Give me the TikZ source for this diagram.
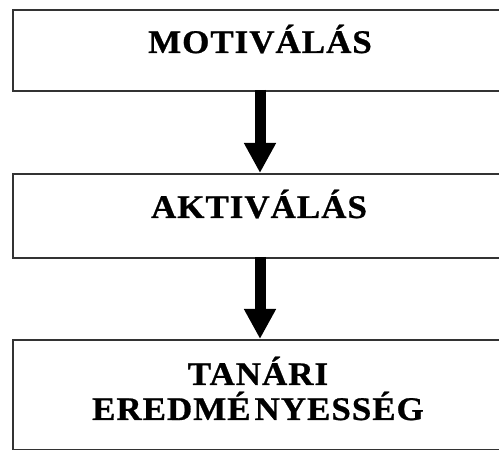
\documentclass[tikz,border=0pt]{standalone}
\usepackage{fontspec}
\setmainfont{Liberation Serif}
\newfontfamily\boxfont[LetterSpace=3,FakeStretch=1.06,FakeBold=0.8]{Liberation Serif}
\usetikzlibrary{arrows.meta}
\begin{document}
\begin{tikzpicture}[x=1pt,y=1pt,
  stagebox/.style={draw=black!80,line width=1.6pt,fill=white,inner sep=0pt},
  stagetext/.style={font=\boxfont\bfseries\fontsize{33}{36}\selectfont,anchor=base,inner sep=0pt},
  flow/.style={line width=11pt,-{Triangle[width=30pt,length=30pt]}}]
\useasboundingbox (0,0) rectangle (499,450);
\clip (0,0) rectangle (499,450);
% stages
\node[stagebox,minimum width=500pt,minimum height=81pt,anchor=north west] (motiv) at (12,441) {};
\node[stagebox,minimum width=500pt,minimum height=84pt,anchor=north west] (aktiv) at (12,277) {};
\node[stagebox,minimum width=500pt,minimum height=110pt,anchor=north west] (tanari) at (12,111) {};
% labels
\node[stagetext] (t1) at (260,397) {MOTIVÁLÁS};
\node[stagetext] (t2) at (259,232) {AKTIVÁLÁS};
\node[stagetext] (t3) at (258,65) {TANÁRI};
\node[stagetext] (t4) at (258,30) {EREDMÉ\hspace{4pt}NYESSÉG};
% arrows
\coordinate (a1s) at (260,360);
\coordinate (a1e) at (260,277);
\coordinate (a2s) at (260,193);
\coordinate (a2e) at (260,111);
\draw[flow] (a1s) -- (a1e);
\draw[flow] (a2s) -- (a2e);
\end{tikzpicture}
\end{document}
